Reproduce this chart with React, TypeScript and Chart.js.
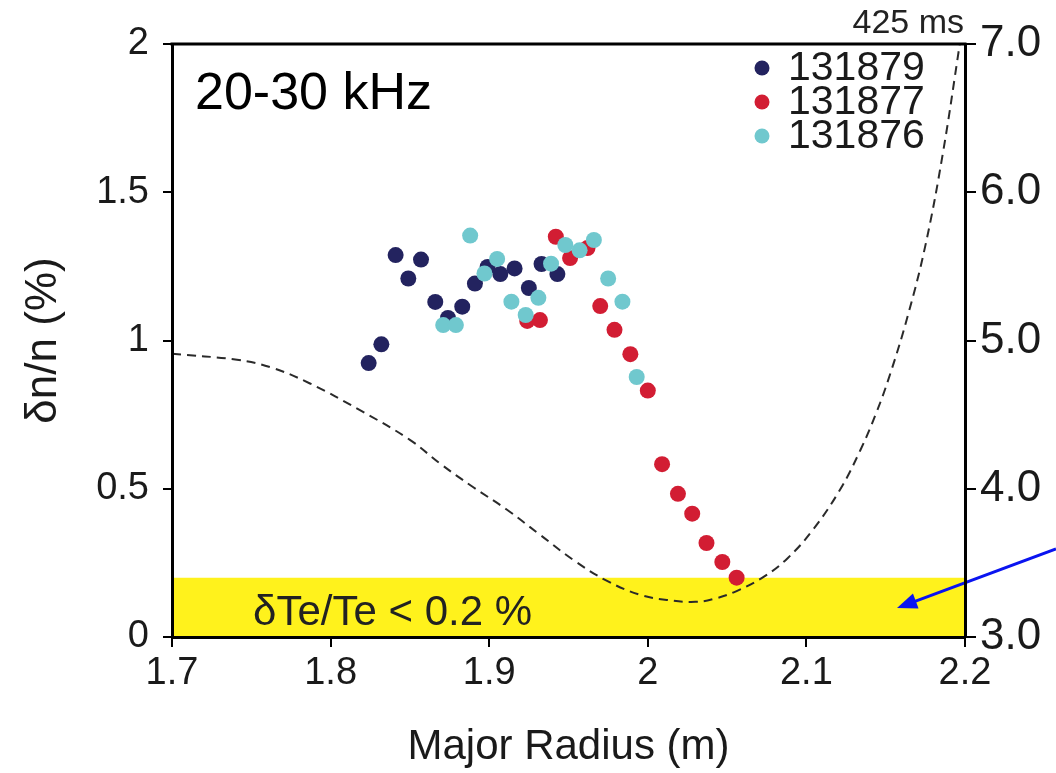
import React, { useEffect, useRef } from "react";
import { Chart, registerables } from "chart.js";

Chart.register(...registerables);

const FONT = "'Liberation Sans', Arial, Helvetica, sans-serif";

// X axis ticks (Major Radius, m)
const xTickValues = [1.7, 1.8, 1.9, 2.0, 2.1, 2.2];

// Shot 131879 (navy)
const r131879 = [1.824, 1.832, 1.841, 1.849, 1.857, 1.866, 1.874, 1.883, 1.891, 1.899, 1.907, 1.916, 1.925, 1.933, 1.943];
const v131879 = [0.924, 0.987, 1.288, 1.209, 1.273, 1.13, 1.076, 1.114, 1.192, 1.248, 1.224, 1.243, 1.177, 1.258, 1.224];

// Shot 131877 (red)
const r131877 = [1.924, 1.932, 1.942, 1.951, 1.962, 1.97, 1.979, 1.989, 2.0, 2.009, 2.019, 2.028, 2.037, 2.047, 2.056];
const v131877 = [1.066, 1.069, 1.35, 1.278, 1.312, 1.116, 1.036, 0.954, 0.831, 0.583, 0.483, 0.416, 0.317, 0.253, 0.2];

// Shot 131876 (cyan)
const r131876 = [1.871, 1.879, 1.888, 1.897, 1.905, 1.914, 1.923, 1.931, 1.939, 1.948, 1.957, 1.966, 1.975, 1.984, 1.993];
const v131876 = [1.052, 1.052, 1.354, 1.226, 1.275, 1.131, 1.086, 1.144, 1.259, 1.322, 1.304, 1.339, 1.209, 1.131, 0.877];

// Dashed profile at 425 ms (right axis)
const profileR = [1.7, 1.741, 1.762, 1.787, 1.8185, 1.85, 1.869, 1.89, 1.911, 1.932, 1.953, 1.974, 1.995, 2.012, 2.03, 2.042, 2.056, 2.073, 2.088, 2.104, 2.121, 2.134, 2.144, 2.153, 2.164, 2.175, 2.186, 2.197];
const profileV = [4.91, 4.87, 4.82, 4.71, 4.53, 4.33, 4.17, 4.01, 3.86, 3.69, 3.52, 3.38, 3.285, 3.25, 3.237, 3.258, 3.31, 3.405, 3.53, 3.722, 3.99, 4.26, 4.51, 4.78, 5.17, 5.64, 6.26, 7.02];

// Yellow band: δTe/Te < 0.2 %
const bandR = [1.7, 2.2];
const bandV = [0.2, 0.2];

const shotLabels = ["131879", "131877", "131876"];
const shotColors = ["#23235f", "#d21d33", "#70c8ce"];

const pts = (xs: number[], ys: number[]) => xs.map((x, i) => ({ x, y: ys[i] }));

const overlayPlugin = {
  id: "overlay",
  afterDatasetsDraw(chart: any) {
    const { ctx, chartArea: a } = chart;
    ctx.save();
    // top frame line
    ctx.strokeStyle = "#000";
    ctx.lineWidth = 3;
    ctx.beginPath();
    ctx.moveTo(a.left - 1.5, a.top);
    ctx.lineTo(a.right + 1.5, a.top);
    ctx.stroke();

    ctx.fillStyle = "#000";
    ctx.textBaseline = "alphabetic";
    // frequency band label
    ctx.font = `52px ${FONT}`;
    ctx.textAlign = "left";
    ctx.fillText("20-30 kHz", a.left + 23, a.top + 65);

    // time label
    ctx.font = `34px ${FONT}`;
    ctx.textAlign = "right";
    ctx.fillStyle = "#222";
    ctx.fillText("425 ms", a.right - 1, a.top - 11);

    // band annotation
    ctx.font = `42px ${FONT}`;
    ctx.textAlign = "left";
    ctx.fillStyle = "#222";
    ctx.fillText("δTe/Te < 0.2 %", a.left + 81, a.bottom - 12);

    // legend
    const ys = [68, 102, 136];
    chart.data.datasets.slice(0, 3).forEach((ds: any, i: number) => {
      ctx.beginPath();
      ctx.fillStyle = ds.backgroundColor;
      ctx.arc(a.right - 203, ys[i], 7.5, 0, Math.PI * 2);
      ctx.fill();
      ctx.fillStyle = "#1a1a1a";
      ctx.font = `41px ${FONT}`;
      ctx.textAlign = "left";
      ctx.textBaseline = "middle";
      ctx.fillText(ds.label, a.right - 177, ys[i] + 1);
    });

    // blue arrow
    const x1 = chart.width, y1 = 549, x2 = 897, y2 = 608;
    const ang = Math.atan2(y2 - y1, x2 - x1);
    ctx.strokeStyle = "#0a14f0";
    ctx.fillStyle = "#0a14f0";
    ctx.lineWidth = 3;
    ctx.beginPath();
    ctx.moveTo(x1, y1);
    ctx.lineTo(x2 - 12 * Math.cos(ang), y2 - 12 * Math.sin(ang));
    ctx.stroke();
    const hl = 20, hw = 8;
    ctx.beginPath();
    ctx.moveTo(x2, y2);
    ctx.lineTo(x2 - hl * Math.cos(ang) + hw * Math.sin(ang), y2 - hl * Math.sin(ang) - hw * Math.cos(ang));
    ctx.lineTo(x2 - hl * Math.cos(ang) - hw * Math.sin(ang), y2 - hl * Math.sin(ang) + hw * Math.cos(ang));
    ctx.closePath();
    ctx.fill();
    ctx.restore();
  },
};

export default function App() {
  const ref = useRef<HTMLCanvasElement | null>(null);
  useEffect(() => {
    if (!ref.current) return;
    const tickFont = { family: FONT, size: 38 };
    const chart = new Chart(ref.current, {
      type: "scatter",
      data: {
        datasets: [
          {
            label: shotLabels[0],
            data: pts(r131879, v131879),
            backgroundColor: shotColors[0],
            borderColor: shotColors[0],
            pointRadius: 8,
            borderWidth: 0,
            order: 3,
          },
          {
            label: shotLabels[1],
            data: pts(r131877, v131877),
            backgroundColor: shotColors[1],
            borderColor: shotColors[1],
            pointRadius: 8,
            borderWidth: 0,
            order: 2,
          },
          {
            label: shotLabels[2],
            data: pts(r131876, v131876),
            backgroundColor: shotColors[2],
            borderColor: shotColors[2],
            pointRadius: 8,
            borderWidth: 0,
            order: 1,
          },
          {
            label: "425 ms",
            data: pts(profileR, profileV),
            yAxisID: "y2",
            showLine: true,
            borderColor: "#2a2a2a",
            borderWidth: 2,
            borderDash: [9, 6],
            pointRadius: 0,
            tension: 0.4,
            fill: false,
            order: 4,
          } as any,
          {
            label: "band",
            data: pts(bandR, bandV),
            showLine: true,
            borderWidth: 0,
            borderColor: "rgba(0,0,0,0)",
            backgroundColor: "#fff21c",
            pointRadius: 0,
            fill: "origin",
            order: 5,
          } as any,
        ],
      },
      options: {
        animation: false,
        responsive: true,
        maintainAspectRatio: false,
        layout: { padding: { top: 44, left: 0, right: 0, bottom: 0 } },
        plugins: {
          legend: { display: false },
          tooltip: { enabled: false },
        },
        scales: {
          x: {
            type: "linear",
            position: "bottom",
            min: 1.7,
            max: 2.2,
            afterBuildTicks: (s: any) => {
              s.ticks = xTickValues.map((v) => ({ value: v }));
            },
            afterFit: (s: any) => {
              s.height = 136;
            },
            ticks: {
              font: tickFont,
              color: "#1a1a1a",
              padding: 4,
              callback: (v: any) => String(Number(Number(v).toFixed(1))),
            },
            grid: { drawOnChartArea: false, drawTicks: true, tickLength: 10, color: "#000", lineWidth: 2 },
            border: { display: true, color: "#000", width: 3, z: 1 },
            title: {
              display: true,
              text: "Major Radius (m)",
              font: { family: FONT, size: 42 },
              color: "#1a1a1a",
              padding: { top: 0, bottom: 0 },
            },
          },
          y: {
            type: "linear",
            position: "left",
            min: 0,
            max: 2,
            ticks: {
              stepSize: 0.5,
              font: tickFont,
              color: "#1a1a1a",
              padding: 14,
              callback: (v: any) => String(Number(Number(v).toFixed(1))),
            },
            afterFit: (s: any) => {
              s.width = 172;
            },
            grid: { drawOnChartArea: false, drawTicks: true, tickLength: 9, color: "#000", lineWidth: 2 },
            border: { display: true, color: "#000", width: 3, z: 1 },
            title: {
              display: true,
              text: "δn/n (%)",
              font: { family: FONT, size: 44 },
              color: "#1a1a1a",
              padding: { top: 17, bottom: 0 },
            },
          },
          y2: {
            type: "linear",
            position: "right",
            min: 3,
            max: 7,
            ticks: {
              stepSize: 1,
              font: { family: FONT, size: 44 },
              color: "#1a1a1a",
              padding: 4,
              callback: (v: any) => Number(v).toFixed(1),
            },
            afterFit: (s: any) => {
              s.width = 91;
            },
            grid: { drawOnChartArea: false, drawTicks: true, tickLength: 11, color: "#000", lineWidth: 2 },
            border: { display: true, color: "#000", width: 3, z: 1 },
          },
        },
      },
      plugins: [overlayPlugin],
    } as any);
    return () => chart.destroy();
  }, []);

  return (
    <div style={{ position: "fixed", left: 0, top: 0, width: 1056, height: 773, background: "#fff" }}>
      <canvas ref={ref} />
    </div>
  );
}
